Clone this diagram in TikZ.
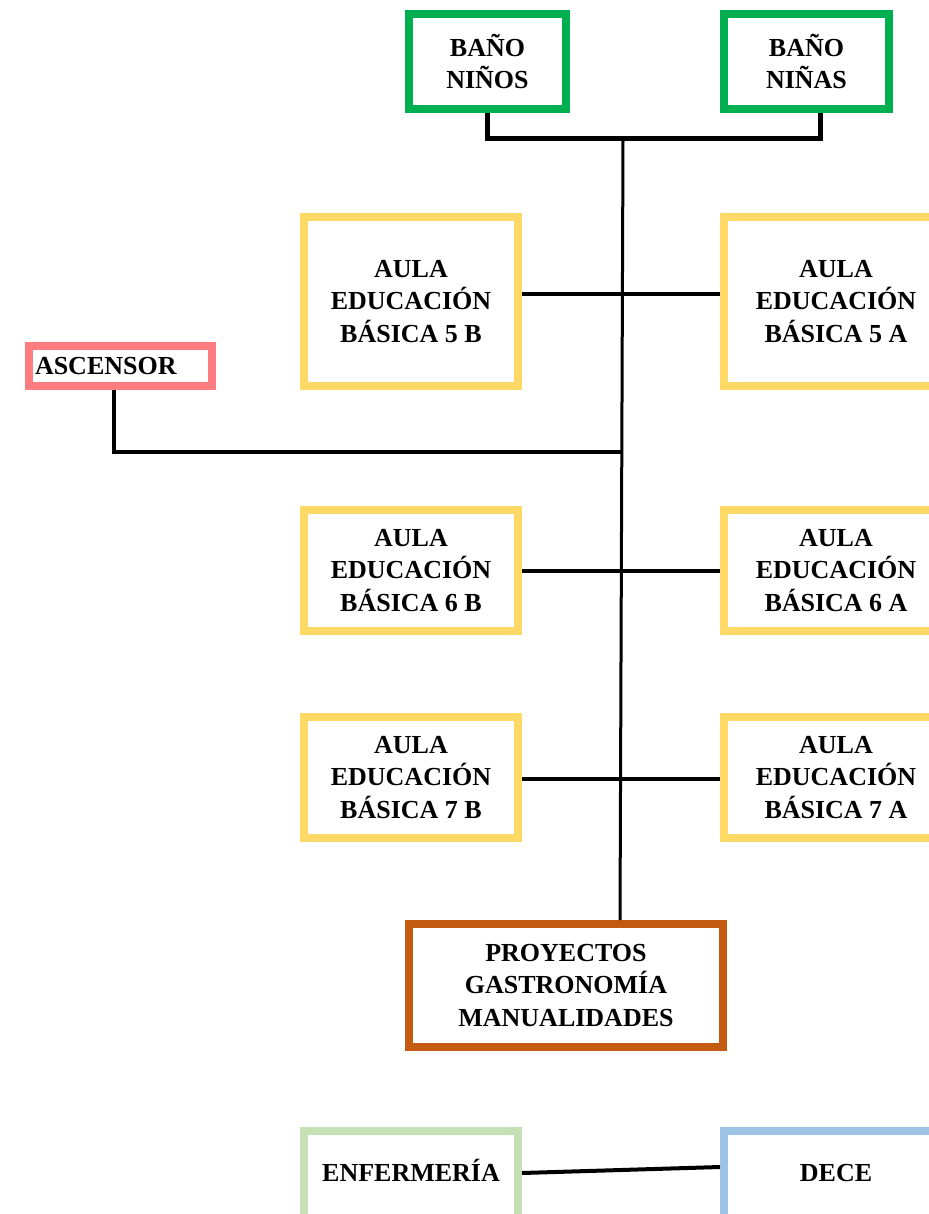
\documentclass[tikz,border=0pt]{standalone}
\usepackage{fontspec}
\setmainfont{Liberation Serif}
\definecolor{cgreen}{HTML}{00B050}
\definecolor{cyellow}{HTML}{FFD966}
\definecolor{cpink}{HTML}{FF7C80}
\definecolor{corange}{HTML}{C55A11}
\definecolor{clgreen}{HTML}{C5E0B4}
\definecolor{clblue}{HTML}{9DC3E6}
\tikzset{
  room/.style={draw, line width=8pt, fill=white, align=center, inner sep=0pt,
    font=\fontsize{26}{32.5}\selectfont\bfseries},
  bath/.style={room, draw=cgreen},
  aula/.style={room, draw=cyellow, minimum width=214pt, minimum height=121pt},
  lowroom/.style={room, minimum height=118pt, text height=24pt, text depth=40.8pt},
  conn/.style={line width=4pt, black},
  trunkline/.style={line width=3pt, black},
  bathline/.style={line width=5pt, black},
}
\begin{document}
\begin{tikzpicture}[x=1pt, y=-1pt]
\useasboundingbox[fill=white] (0,0) rectangle (928,1214);
% rooms
\node[bath, minimum width=157pt, minimum height=95pt] (bn) at (487.5,61.5) {BAÑO\\NIÑOS};
\node[bath, minimum width=165pt, minimum height=95pt] (bg) at (806.5,61.5) {BAÑO\\NIÑAS};
\node[aula, minimum height=169pt] (a5b) at (411,301.5) {AULA\\EDUCACIÓN\\BÁSICA 5 B};
\node[aula, minimum width=224pt, minimum height=169pt] (a5a) at (836,301.5) {AULA\\EDUCACIÓN\\BÁSICA 5 A};
\node[room, draw=cpink, minimum height=40pt, text width=171pt, align=left, inner xsep=6pt] (asc) at (120.5,366) {ASCENSOR};
\node[aula] (a6b) at (411,570.5) {AULA\\EDUCACIÓN\\BÁSICA 6 B};
\node[aula, minimum width=224pt] (a6a) at (836,570.5) {AULA\\EDUCACIÓN\\BÁSICA 6 A};
\node[aula] (a7b) at (411,777.5) {AULA\\EDUCACIÓN\\BÁSICA 7 B};
\node[aula, minimum width=224pt] (a7a) at (836,777.5) {AULA\\EDUCACIÓN\\BÁSICA 7 A};
\node[room, draw=corange, minimum width=314pt, minimum height=123pt] (proy) at (566,985.5) {PROYECTOS\\GASTRONOMÍA\\MANUALIDADES};
\node[lowroom, draw=clgreen, minimum width=214pt] (enf) at (411,1190) {ENFERMERÍA};
\node[lowroom, draw=clblue, minimum width=224pt] (dece) at (836,1190) {DECE};
% connectors
\coordinate (jt) at (623,139);
\coordinate (ja) at (622,452);
\draw[bathline] (bn.south) |- (jt) -| ([xshift=13.5pt]bg.south);
\draw[trunkline] (jt) -- ([xshift=54pt]proy.north);
\draw[conn] ([xshift=-6.5pt]asc.south) |- (ja);
\draw[conn] ([yshift=7.5pt]a5b.east) -- ([yshift=7.5pt]a5a.west);
\draw[conn] (a6b.east) -- (a6a.west);
\draw[conn] ([yshift=-1.5pt]a7b.east) -- ([yshift=-1.5pt]a7a.west);
\draw[conn] ([yshift=17pt]enf.east) -- ([yshift=23pt]dece.west);
\end{tikzpicture}
\end{document}
